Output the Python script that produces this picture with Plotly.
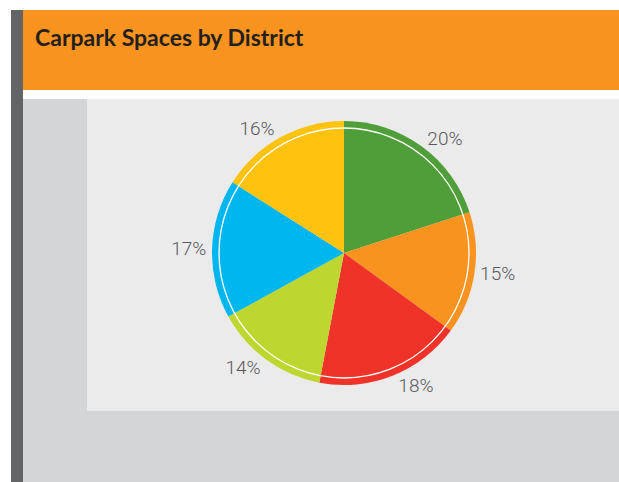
import plotly.graph_objects as go

# Share of carpark spaces per district, clockwise from 12 o'clock
districts = ["District A", "District B", "District C", "District D", "District E", "District F"]
shares = [20, 15, 18, 14, 17, 16]
slice_colors = ["#4f9e3a", "#f7931e", "#ef3329", "#bed730", "#00b6ef", "#ffc20f"]

W, H = 619, 482

def px(x):
    return x / W

def py(y):
    return 1 - y / H

fig = go.Figure(
    go.Pie(
        labels=districts,
        values=shares,
        marker=dict(colors=slice_colors, line=dict(width=0)),
        sort=False,
        direction="clockwise",
        rotation=0,
        texttemplate="%{value}%",
        textposition="outside",
        textfont=dict(family="Roboto", size=19, weight=300, color="#58595b"),
        showlegend=False,
        hoverinfo="label+value",
        domain=dict(x=[px(212), px(476)], y=[py(385), py(121)]),
    )
)

shapes = [
    # dark side strip
    dict(type="rect", xref="paper", yref="paper", x0=px(11), x1=px(23), y0=0, y1=py(10),
         fillcolor="#636466", line=dict(width=0), layer="below"),
    # header band
    dict(type="rect", xref="paper", yref="paper", x0=px(23), x1=1, y0=py(90), y1=py(10),
         fillcolor="#f7931e", line=dict(width=0), layer="below"),
    # outer grey area
    dict(type="rect", xref="paper", yref="paper", x0=px(23), x1=1, y0=0, y1=py(99),
         fillcolor="#d4d5d6", line=dict(width=0), layer="below"),
    # chart panel
    dict(type="rect", xref="paper", yref="paper", x0=px(87), x1=1, y0=py(411), y1=py(99),
         fillcolor="#ebebeb", line=dict(width=0), layer="below"),
    # inner white ring over the pie
    dict(type="circle", xref="paper", yref="paper", x0=px(219), x1=px(469), y0=py(378), y1=py(128),
         fillcolor="rgba(0,0,0,0)", line=dict(color="white", width=1.3), layer="above"),
]

fig.update_layout(
    width=W,
    height=H,
    margin=dict(l=0, r=0, t=0, b=0),
    paper_bgcolor="white",
    plot_bgcolor="white",
    shapes=shapes,
    annotations=[
        dict(text="<b>Carpark Spaces by District</b>", xref="paper", yref="paper",
             x=px(33), y=py(37), xanchor="left", yanchor="middle", showarrow=False,
             font=dict(family="Lato", size=23, color="#231f20")),
    ],
)

fig.write_html("out.html")
